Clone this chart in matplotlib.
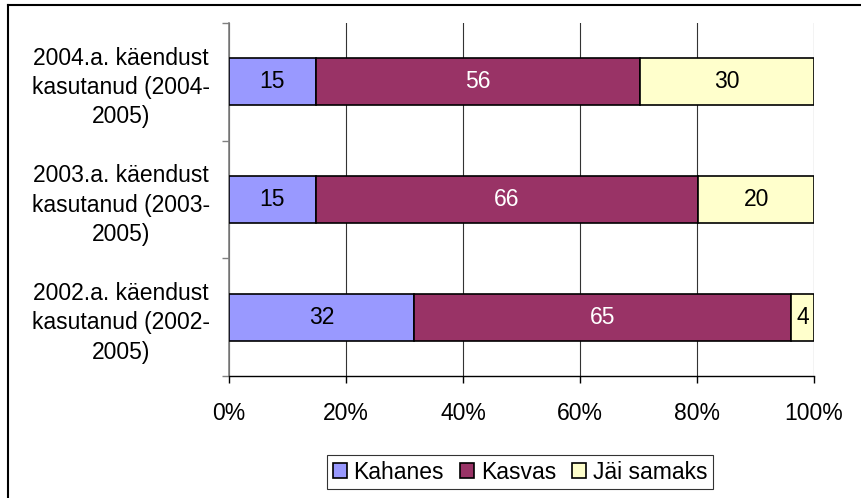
import matplotlib.pyplot as plt
import numpy as np
from matplotlib.lines import Line2D

plt.rcParams['font.family'] = ['Liberation Sans', 'DejaVu Sans']

# categories, bottom to top
categories = ["2002.a. käendust\nkasutanud (2002-\n2005)",
              "2003.a. käendust\nkasutanud (2003-\n2005)",
              "2004.a. käendust\nkasutanud (2004-\n2005)"]
kahanes = [32, 15, 15]
kasvas = [65, 66, 56]
jai_samaks = [4, 20, 30]
series_names = ["Kahanes", "Kasvas", "Jäi samaks"]
colors = ["#9999FF", "#993366", "#FFFFCC"]
text_colors = ["black", "white", "black"]
ticks = [0, 20, 40, 60, 80, 100]

W, H = 862, 498
FS = 16.5
fig = plt.figure(figsize=(W / 100, H / 100), dpi=100)

# outer chart border (only top/left visible in reference)
fig.add_artist(Line2D([8 / W, 8 / W], [0, 1 - 5 / H], transform=fig.transFigure,
                      color="black", linewidth=1.5))
fig.add_artist(Line2D([8 / W, 1], [1 - 5 / H, 1 - 5 / H], transform=fig.transFigure,
                      color="black", linewidth=1.5))

ax = fig.add_axes([229 / W, 1 - 376 / H, (814 - 229) / W, (376 - 23) / H])

data = np.array([kahanes, kasvas, jai_samaks], dtype=float)
pct = data / data.sum(axis=0) * 100
y = np.arange(len(categories))
left = np.zeros(len(categories))
for i, name in enumerate(series_names):
    ax.barh(y, pct[i], left=left, height=0.4, color=colors[i],
            edgecolor="black", linewidth=1.2, label=name, zorder=3)
    for j in range(len(categories)):
        ax.text(left[j] + pct[i][j] / 2, y[j], str(int(data[i][j])),
                ha="center", va="center", fontsize=FS, color=text_colors[i],
                zorder=4)
    left += pct[i]

ax.set_xlim(0, 100)
ax.set_ylim(-0.5, len(categories) - 0.5)
ax.set_xticks(ticks)
ax.set_xticklabels([f"{t}%" for t in ticks], fontsize=FS)
ax.tick_params(axis="x", length=5, width=1, pad=14)
ax.grid(axis="x", color="#333333", linewidth=0.8, zorder=0)

# category boundary ticks on the y axis, labels in the middle
ax.set_yticks(np.arange(len(categories) + 1) - 0.5)
ax.set_yticklabels([])
ax.set_yticks(y, minor=True)
ax.set_yticklabels(categories, minor=True, fontsize=FS, ha="center",
                   linespacing=1.35)
ax.tick_params(axis="y", which="minor", length=0, pad=78)
ax.tick_params(axis="y", which="major", length=5, width=1, color="gray")

for s in ["top", "right"]:
    ax.spines[s].set_visible(False)
ax.spines["left"].set_color("gray")
ax.spines["left"].set_linewidth(1.2)
ax.spines["bottom"].set_linewidth(1.0)

leg = fig.legend(loc="center", bbox_to_anchor=(520 / W, 1 - 472 / H),
                 ncol=3, fontsize=FS, frameon=True, fancybox=False,
                 edgecolor="black", handlelength=0.6, handleheight=0.6,
                 handletextpad=0.3, columnspacing=0.7, borderpad=0.25,
                 borderaxespad=0)
leg.get_frame().set_linewidth(0.8)

fig.savefig("out.png", dpi=100)
